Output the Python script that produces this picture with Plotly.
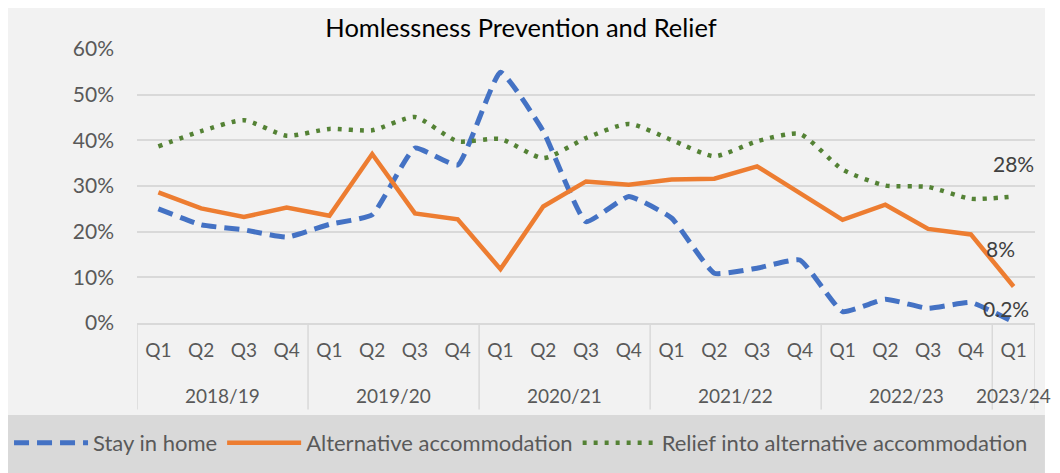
import plotly.graph_objects as go

years = ["2018/19"] * 4 + ["2019/20"] * 4 + ["2020/21"] * 4 + ["2021/22"] * 4 + ["2022/23"] * 4 + ["2023/24"]
quarters = ["Q1", "Q2", "Q3", "Q4"] * 5 + ["Q1"]

stay_in_home = [0.250, 0.215, 0.204, 0.188, 0.216, 0.237, 0.383, 0.346, 0.549, 0.420, 0.222,
                0.277, 0.230, 0.109, 0.120, 0.138, 0.025, 0.052, 0.032, 0.045, 0.002]
alternative = [0.286, 0.251, 0.232, 0.253, 0.235, 0.370, 0.240, 0.227, 0.118, 0.255, 0.310,
               0.303, 0.314, 0.316, 0.343, 0.284, 0.226, 0.259, 0.206, 0.194, 0.080]
relief = [0.387, 0.420, 0.444, 0.410, 0.425, 0.422, 0.451, 0.398, 0.403, 0.361, 0.405,
          0.436, 0.401, 0.365, 0.398, 0.414, 0.336, 0.301, 0.298, 0.272, 0.277]

series_names = ["Stay in home", "Alternative accommodation", "Relief into alternative accommodation"]
end_labels = ["0.2%", "8%", "28%"]

FONT = "Lato"
TXT = "#595959"
GRID = "#d9d9d9"

idx = list(range(len(quarters)))

fig = go.Figure()
fig.add_trace(go.Scatter(x=idx, y=stay_in_home, name=series_names[0], mode="lines",
                         line=dict(color="#4472c4", width=5, dash="15px,8px", shape="spline", smoothing=0.4)))
fig.add_trace(go.Scatter(x=idx, y=alternative, name=series_names[1], mode="lines",
                         line=dict(color="#ed7d31", width=4.5)))
fig.add_trace(go.Scatter(x=idx, y=relief, name=series_names[2], mode="lines",
                         line=dict(color="#548235", width=4.5, dash="4px,7px", shape="spline", smoothing=0.6)))

last = idx[-1]
for vals, lab, dx, dy in [(stay_in_home, end_labels[0], -8, 14),
                          (alternative, end_labels[1], -13, 38),
                          (relief, end_labels[2], 0, 33)]:
    fig.add_annotation(x=last, y=vals[last], xref="x", yref="y", text=lab, showarrow=False,
                       xshift=dx, yshift=dy, font=dict(family=FONT, size=21, color="#404040"))

# year group labels and dividers (derived from the category data)
groups = []
for i, yr in enumerate(years):
    if not groups or groups[-1][0] != yr:
        groups.append([yr, i, i])
    else:
        groups[-1][2] = i
for yr, i0, i1 in groups:
    fig.add_annotation(x=(i0 + i1) / 2, y=-0.263, xref="x", yref="paper", text=yr, showarrow=False,
                       yanchor="middle", font=dict(family=FONT, size=19, color=TXT))
    fig.add_shape(type="line", xref="x", yref="paper", x0=i0 - 0.5, x1=i0 - 0.5, y0=0, y1=-0.316,
                  line=dict(color=GRID, width=1.5))
fig.add_shape(type="line", xref="x", yref="paper", x0=last + 0.5, x1=last + 0.5, y0=0, y1=-0.316,
              line=dict(color=GRID, width=1.5))

# background panels
fig.add_shape(type="rect", xref="paper", yref="paper", x0=-0.2, x1=1.0111, y0=-0.3358, y1=1.2,
              fillcolor="#f2f2f2", line_width=0, layer="below")
fig.add_shape(type="rect", xref="paper", yref="paper", x0=-0.2, x1=1.0111, y0=-0.7, y1=-0.3358,
              fillcolor="#d9d9d9", line_width=0, layer="below")
fig.add_shape(type="rect", xref="paper", yref="paper", x0=1.0111, x1=1.05, y0=-0.7, y1=1.2,
              fillcolor="white", line_width=0, layer="above")

fig.update_layout(
    width=1052, height=465,
    margin=dict(l=129, r=25, t=41, b=150, autoexpand=False),
    paper_bgcolor="white", plot_bgcolor="rgba(0,0,0,0)",
    font=dict(family=FONT, color=TXT),
    title=dict(text="Homlessness Prevention and Relief", x=513 / 1052, xanchor="center",
               y=1 - 20 / 465, yanchor="middle", font=dict(family=FONT, size=25.5, color="#000000")),
    showlegend=True,
    legend=dict(orientation="h", x=-0.1425, xanchor="left", y=-0.438, yanchor="middle",
                font=dict(family=FONT, size=22, color=TXT), bgcolor="rgba(0,0,0,0)",
                itemwidth=74, tracegroupgap=0),
)
fig.update_xaxes(range=[-0.5, last + 0.5], tickvals=idx, ticktext=quarters, showgrid=False,
                 showline=True, linecolor=GRID, linewidth=1.5, zeroline=False, ticks="",
                 ticklabelstandoff=9, tickfont=dict(family=FONT, size=19, color=TXT), automargin=False)
fig.update_yaxes(range=[0, 0.6], dtick=0.1, tickformat=".0%", showgrid=True, gridcolor=GRID, gridwidth=1.5,
                 zeroline=False, showline=False, ticks="", ticklabelstandoff=22,
                 tickfont=dict(family=FONT, size=21, color=TXT), automargin=False)

fig.write_html("out.html")
